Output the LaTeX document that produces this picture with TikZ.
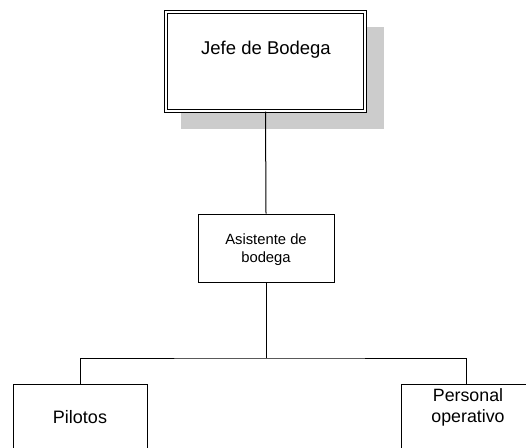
\documentclass[tikz,border=0pt]{standalone}
\usepackage{fontspec}
\setmainfont{Liberation Sans}
\begin{document}
\begin{tikzpicture}[x=1pt,y=-1pt,
  box/.style={draw=black,line width=1pt,fill=white,inner sep=0pt},
  conn/.style={draw=black,line width=1pt},
  lbl/.style={inner sep=0pt,align=center,text=black}]
\useasboundingbox (0,0) rectangle (526,447);
\clip (0,0) rectangle (526,447);
% shadow
\fill[fill={rgb,255:red,204;green,204;blue,204}] (181,27) rectangle (384,129);
% top box with double border
\node[box,double,double distance=2.2pt,minimum width=199pt,minimum height=99pt] (jefe) at (265.5,61.5) {};
\node[lbl,font=\fontsize{18.5}{21}\selectfont] (jefet) at (266,50) {Jefe de Bodega};
% assistant
\node[box,minimum width=136pt,minimum height=68pt] (asis) at (266,248) {};
\node[lbl,font=\fontsize{14.8}{18}\selectfont] (asist) at (266,250) {Asistente de\\bodega};
% bottom boxes
\node[box,minimum width=134pt,minimum height=90pt,anchor=north] (pil) at (80,384) {};
\node[lbl,font=\fontsize{18}{21}\selectfont] (pilt) at (80,417) {Pilotos};
\node[box,minimum width=130pt,minimum height=90pt,anchor=north] (per) at (466,384) {};
\node[lbl,font=\fontsize{17.8}{21}\selectfont] (pert) at (468,407) {Personal\\operativo};
% connectors
\coordinate (junc) at (266,358);
\draw[conn] (jefe.south) -- (asis.north);
\draw[conn] (asis.south) -- (junc);
\draw[conn] (pil.north) |- (junc) -| (per.north);
\end{tikzpicture}
\end{document}
